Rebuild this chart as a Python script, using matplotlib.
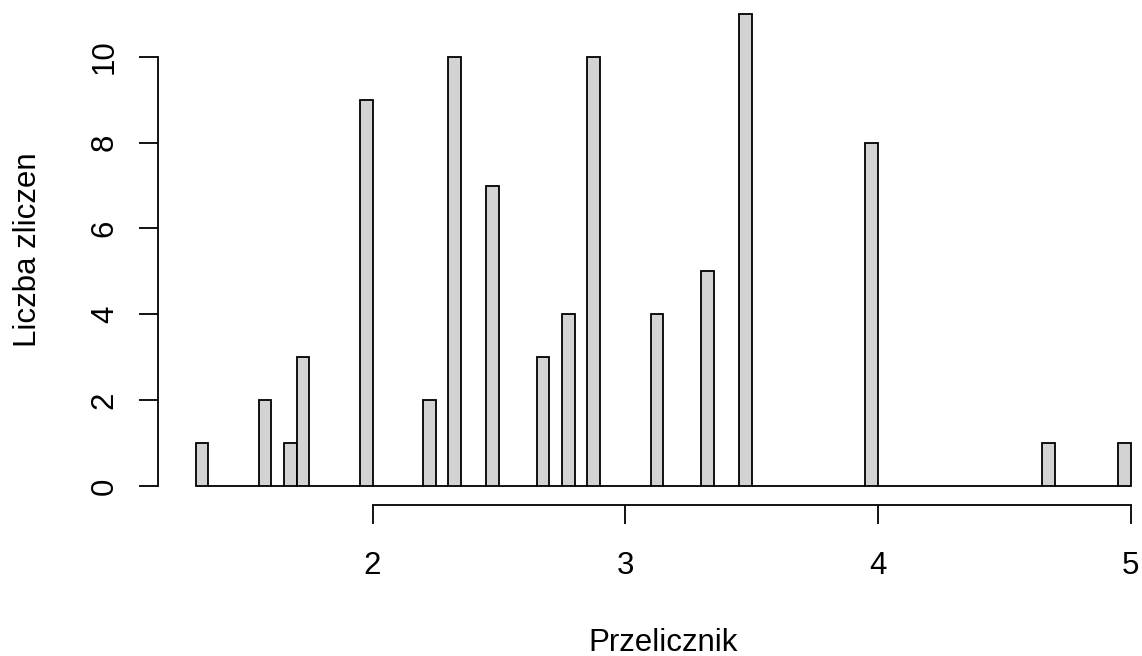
import numpy as np
import matplotlib
matplotlib.use("Agg")
import matplotlib.pyplot as plt

# Histogram data (bins of width 0.05 from 1.30 to 5.00)
bin_start = 1.30
bin_width = 0.05
counts = [1, 0, 0, 0, 0, 2, 0, 1, 3, 0,
          0, 0, 0, 9, 0, 0, 0, 0, 2, 0,
          10, 0, 0, 7, 0, 0, 0, 3, 0, 4,
          0, 10, 0, 0, 0, 0, 4, 0, 0, 0,
          5, 0, 0, 11, 0, 0, 0, 0, 0, 0,
          0, 0, 0, 8, 0, 0, 0, 0, 0, 0,
          0, 0, 0, 0, 0, 0, 0, 1, 0, 0,
          0, 0, 0, 1]
x_ticks = [2, 3, 4, 5]
y_ticks = [0, 2, 4, 6, 8, 10]
x_label = "Przelicznik"
y_label = "Liczba zliczen"

plt.rcParams['font.family'] = ['Liberation Sans', 'DejaVu Sans']
FS = 22.5
LW = 1.3

W, H = 1142, 656
fig = plt.figure(figsize=(W / 100, H / 100), dpi=100)
left_px, right_px, top_px, bot_px = 158.3, 1168.0, -5.1, 504.9
ax = fig.add_axes([left_px / W, (H - bot_px) / H,
                   (right_px - left_px) / W, (bot_px - top_px) / H])

edges = bin_start + bin_width * np.arange(len(counts))
ax.bar(edges, counts, width=bin_width, align='edge',
       color='#D3D3D3', edgecolor='black', linewidth=LW)

n = len(counts)
lo, hi = bin_start, bin_start + bin_width * n
pad_x = 0.04 * (hi - lo)
ax.set_xlim(lo - pad_x, hi + pad_x)
ymax = max(counts)
ax.set_ylim(-0.04 * ymax, ymax * 1.04)

for s in ['top', 'right']:
    ax.spines[s].set_visible(False)
ax.spines['left'].set_bounds(y_ticks[0], y_ticks[-1])
ax.spines['bottom'].set_bounds(x_ticks[0], x_ticks[-1])
for s in ['left', 'bottom']:
    ax.spines[s].set_linewidth(LW)

ax.set_xticks(x_ticks)
ax.set_xticklabels([str(v) for v in x_ticks])
ax.set_yticks(y_ticks)
ax.set_yticklabels([str(v) for v in y_ticks])

tick_len = 14.0  # points
ax.tick_params(axis='x', length=tick_len, width=LW, pad=(574 - 524) * 0.72,
               labelsize=FS)
ax.tick_params(axis='y', length=tick_len, width=LW, pad=(138 - 112) * 0.72,
               labelsize=FS)
for lab in ax.get_xticklabels():
    lab.set_va('baseline')
for lab in ax.get_yticklabels():
    lab.set_rotation(90)
    lab.set_rotation_mode('anchor')
    lab.set_ha('center')
    lab.set_va('baseline')

# axis titles
fig.text((left_px + right_px) / 2 / W, (H - 651) / H, x_label,
         ha='center', va='baseline', fontsize=FS)
fig.text(36.5 / W, (H - (top_px + bot_px) / 2) / H, y_label,
         rotation=90, rotation_mode='anchor', ha='center', va='baseline',
         fontsize=FS)

fig.savefig('out.png', dpi=100)
